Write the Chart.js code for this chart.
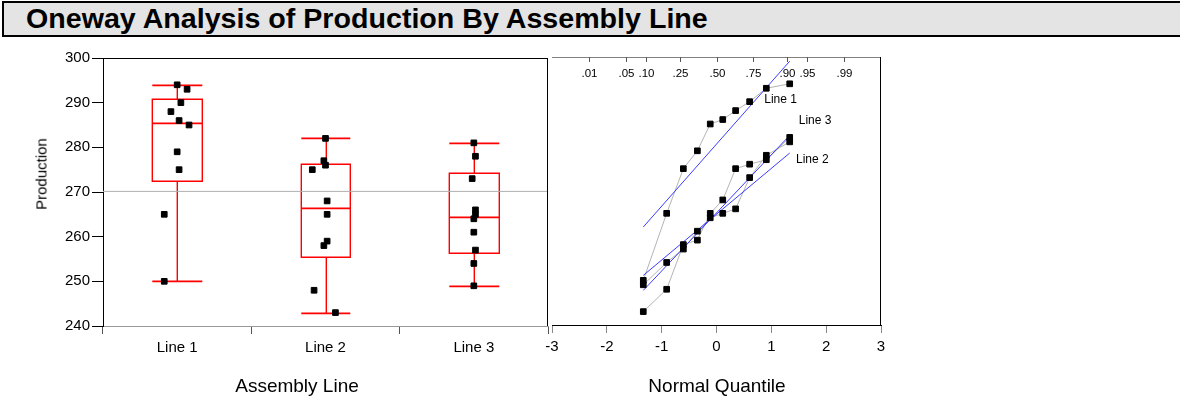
<!DOCTYPE html>
<html>
<head>
<meta charset="utf-8">
<script src="https://cdn.jsdelivr.net/npm/chart.js@4.4.0/dist/chart.umd.min.js"></script>
<style>
  body{margin:0;background:#fff;width:1180px;height:405px;overflow:hidden;position:relative;font-family:"Liberation Sans",Arial,sans-serif}
  #titre{position:absolute;left:2px;top:1px;width:1200px;height:32px;border:2px solid #000;background:#e4e4e4;
         font-weight:bold;font-size:27px;line-height:32px;padding-left:22px;white-space:nowrap}
  #titre span{display:inline-block;transform:scaleX(1.06);transform-origin:left center}
  canvas{position:absolute;top:0}
  #gauche{left:0}
  #droite{left:480px}
  .axe{position:absolute;font-size:19px;white-space:nowrap;transform:translateX(-50%);color:#000}
  #prod{position:absolute;left:41px;top:174px;font-size:15px;white-space:nowrap;transform:translate(-50%,-50%) rotate(-90deg)}
</style>
</head>
<body>
<div id="titre"><span>Oneway Analysis of Production By Assembly Line</span></div>
<canvas id="gauche" width="553" height="405"></canvas>
<canvas id="droite" width="440" height="405"></canvas>
<div id="prod">Production</div>
<div class="axe" style="left:297px;top:375px">Assembly Line</div>
<div class="axe" style="left:717px;top:375px">Normal Quantile</div>
<script>
// les donnees
const lignes = ['Line 1', 'Line 2', 'Line 3'];
const line1 = [294, 293, 290, 288, 286, 285, 279, 275, 265, 250];
const line2 = [282, 277, 276, 275, 268, 265, 259, 258, 248, 243];
const line3 = [281, 278, 273, 266, 265, 264, 261, 257, 254, 249];
// decalage horizontal des points (jitter), en largeur de categorie
const jitter1 = [0, 0.067, 0.025, -0.042, 0.013, 0.08, 0, 0.013, -0.087, -0.087];
const jitter2 = [0, -0.011, 0, -0.089, 0.011, 0.011, 0.011, -0.011, -0.077, 0.067];
const jitter3 = [0, 0.011, -0.011, 0.011, 0.011, 0, 0, 0.011, 0, 0];
const yTicks = [240, 250, 260, 270, 280, 290, 300];
const quantTicks = [-3, -2, -1, 0, 1, 2, 3];
const probas = [0.01, 0.05, 0.10, 0.25, 0.50, 0.75, 0.90, 0.95, 0.99];
const probaLabels = ['.01', '.05', '.10', '.25', '.50', '.75', '.90', '.95', '.99'];

const groupes = [line1, line2, line3];
const jitters = [jitter1, jitter2, jitter3];
const police = '"Liberation Sans", Arial, sans-serif';
Chart.defaults.font.family = police;

// inverse de la loi normale (Acklam)
function invNorm(p) {
  const a = [-39.69683028665376, 220.9460984245205, -275.9285104469687, 138.3577518672690, -30.66479806614716, 2.506628277459239];
  const b = [-54.47609879822406, 161.5858368580409, -155.6989798598866, 66.80131188771972, -13.28068155288572];
  const c = [-0.007784894002430293, -0.3223964580411365, -2.400758277161838, -2.549732539343734, 4.374664141464968, 2.938163982698783];
  const d = [0.007784695709041462, 0.3224671290700398, 2.445134137142996, 3.754408661907416];
  const pl = 0.02425;
  let q, r;
  if (p < pl) {
    q = Math.sqrt(-2 * Math.log(p));
    return (((((c[0]*q+c[1])*q+c[2])*q+c[3])*q+c[4])*q+c[5]) / ((((d[0]*q+d[1])*q+d[2])*q+d[3])*q+1);
  }
  if (p > 1 - pl) {
    q = Math.sqrt(-2 * Math.log(1 - p));
    return -(((((c[0]*q+c[1])*q+c[2])*q+c[3])*q+c[4])*q+c[5]) / ((((d[0]*q+d[1])*q+d[2])*q+d[3])*q+1);
  }
  q = p - 0.5; r = q * q;
  return (((((a[0]*r+a[1])*r+a[2])*r+a[3])*r+a[4])*r+a[5])*q / (((((b[0]*r+b[1])*r+b[2])*r+b[3])*r+b[4])*r+1);
}

// quantile facon JMP : position p*(n+1)
function quantile(tri, p) {
  const n = tri.length, pos = p * (n + 1), i = Math.floor(pos), f = pos - i;
  if (i < 1) return tri[0];
  if (i >= n) return tri[n - 1];
  return tri[i - 1] + f * (tri[i] - tri[i - 1]);
}

function stats(vals) {
  const tri = [...vals].sort((u, v) => u - v);
  const q1 = quantile(tri, 0.25), med = quantile(tri, 0.5), q3 = quantile(tri, 0.75);
  const iqr = q3 - q1;
  const bas = tri.find(v => v >= q1 - 1.5 * iqr);
  const haut = [...tri].reverse().find(v => v <= q3 + 1.5 * iqr);
  const moy = tri.reduce((s, v) => s + v, 0) / tri.length;
  const sd = Math.sqrt(tri.reduce((s, v) => s + (v - moy) ** 2, 0) / (tri.length - 1));
  return {tri, q1, med, q3, bas, haut, moy, sd};
}

const tous = groupes.flat();
const moyG = tous.reduce((s, v) => s + v, 0) / tous.length;

// boites a moustaches dessinees avec les echelles du graphe
const boites = {
  id: 'boites',
  beforeDatasetsDraw(chart) {
    const {ctx, scales: {x, y}} = chart;
    ctx.save();
    groupes.forEach((vals, g) => {
      const st = stats(vals);
      // trait un peu plus large que 1px : rouge avec un liseré rose comme l'original
      const xl = Math.round(x.getPixelForValue(g + 1 - 1 / 6)) + 0.3;
      const xr = Math.round(x.getPixelForValue(g + 1 + 1 / 6)) + 0.3;
      const xc = Math.round(x.getPixelForValue(g + 1)) + 0.3;
      const py = v => Math.round(y.getPixelForValue(v)) + 0.3;
      ctx.strokeStyle = 'rgb(255,0,0)';
      ctx.lineWidth = 1.4;
      ctx.beginPath();
      ctx.rect(xl, py(st.q3), xr - xl, py(st.q1) - py(st.q3));
      ctx.moveTo(xc, py(st.q3)); ctx.lineTo(xc, py(st.haut));
      ctx.moveTo(xc, py(st.q1)); ctx.lineTo(xc, py(st.bas));
      ctx.stroke();
      ctx.lineWidth = 1.8;
      ctx.beginPath();
      ctx.moveTo(xl, py(st.med)); ctx.lineTo(xr, py(st.med));
      ctx.moveTo(xl, py(st.haut)); ctx.lineTo(xr, py(st.haut));
      ctx.moveTo(xl, py(st.bas)); ctx.lineTo(xr, py(st.bas));
      ctx.stroke();
    });
    ctx.restore();
  },
  afterDraw(chart) {
    const {ctx, chartArea: a} = chart;
    ctx.save();
    ctx.strokeStyle = '#000';
    ctx.lineWidth = 1;
    ctx.beginPath();
    ctx.moveTo(a.left, Math.round(a.top) + 0.5); ctx.lineTo(a.right, Math.round(a.top) + 0.5);
    ctx.moveTo(Math.round(a.right) - 0.5, a.top); ctx.lineTo(Math.round(a.right) - 0.5, a.bottom);
    ctx.stroke();
    ctx.restore();
  }
};

// attention : Chart.js dessine le premier dataset au-dessus des autres
new Chart('gauche', {
  type: 'scatter',
  data: {
    datasets: [
      ...groupes.map((vals, g) => ({
        data: vals.map((v, i) => ({x: g + 1 + jitters[g][i], y: v})),
        pointStyle: 'rect', pointRadius: 4, backgroundColor: '#000', borderColor: '#000', borderWidth: 1
      })),
      {data: [{x: 0.5, y: moyG}, {x: 3.5, y: moyG}], showLine: true, borderColor: '#b0b0b0', borderWidth: 1, pointRadius: 0}
    ]
  },
  options: {
    responsive: false, animation: false,
    layout: {padding: {top: 58, right: 1, left: 0, bottom: 0}},
    plugins: {legend: {display: false}, tooltip: {enabled: false}},
    scales: {
      x: {
        type: 'linear', min: 0.5, max: 3.5,
        afterBuildTicks: s => { s.ticks = [1, 2, 3].map(v => ({value: v})); },
        afterFit: s => { s.height = 79; },
        ticks: {callback: v => lignes[v - 1], color: '#000', font: {size: 15}, padding: 5, maxRotation: 0, autoSkip: false},
        grid: {offset: true, drawOnChartArea: false, tickLength: 8, tickColor: '#555'},
        border: {color: '#999'}
      },
      y: {
        min: 240, max: 300,
        afterBuildTicks: s => { s.ticks = yTicks.map(v => ({value: v})); },
        afterFit: s => { s.width = 103; },
        ticks: {color: '#000', font: {size: 15}, padding: 2},
        grid: {drawOnChartArea: false, tickLength: 11, tickColor: '#000'},
        border: {color: '#000'}
      }
    }
  },
  plugins: [boites]
});

// graphe des quantiles normaux
const etiquettes = [
  {texte: 'Line 1', z: 0.87, v: 290.4},
  {texte: 'Line 3', z: 1.5, v: 285.8},
  {texte: 'Line 2', z: 1.45, v: 277.0}
];

const cadreQuantile = {
  id: 'cadreQuantile',
  afterDraw(chart) {
    const {ctx, chartArea: a, scales: {x, y}} = chart;
    ctx.save();
    ctx.lineWidth = 1;
    ctx.strokeStyle = '#808080';
    ctx.beginPath();
    ctx.moveTo(a.left, Math.round(a.top) + 0.5); ctx.lineTo(a.right, Math.round(a.top) + 0.5);
    ctx.stroke();
    ctx.strokeStyle = '#000';
    ctx.beginPath();
    ctx.moveTo(Math.round(a.right) - 0.5, a.top); ctx.lineTo(Math.round(a.right) - 0.5, a.bottom);
    ctx.stroke();
    ctx.strokeStyle = '#555';
    ctx.fillStyle = '#000';
    ctx.font = '11.5px ' + police;
    ctx.textAlign = 'center';
    ctx.textBaseline = 'middle';
    probas.forEach((p, i) => {
      const px = Math.round(x.getPixelForValue(invNorm(p))) + 0.5;
      ctx.beginPath();
      ctx.moveTo(px, a.top); ctx.lineTo(px, a.top + 5);
      ctx.stroke();
      ctx.fillText(probaLabels[i], px, a.top + 17);
    });
    ctx.font = '12px ' + police;
    ctx.textAlign = 'left';
    etiquettes.forEach(e => ctx.fillText(e.texte, x.getPixelForValue(e.z), y.getPixelForValue(e.v)));
    ctx.restore();
  }
};

const series = groupes.map(vals => {
  const st = stats(vals);
  const n = st.tri.length;
  const z = st.tri.map((v, i) => invNorm((i + 1) / (n + 1)));
  return {st, pts: st.tri.map((v, i) => ({x: z[i], y: v})), z0: z[0], z1: z[n - 1]};
});

new Chart('droite', {
  type: 'scatter',
  data: {
    datasets: [
      ...series.map(s => ({data: s.pts, pointStyle: 'rect', pointRadius: 4, backgroundColor: '#000', borderColor: '#000', borderWidth: 1})),
      ...series.map(s => ({
        data: [{x: s.z0, y: s.st.moy + s.st.sd * s.z0}, {x: s.z1, y: s.st.moy + s.st.sd * s.z1}],
        showLine: true, borderColor: '#3c3cff', borderWidth: 1, pointRadius: 0
      })),
      ...series.map(s => ({data: s.pts, showLine: true, borderColor: '#b4b4b4', borderWidth: 1, pointRadius: 0}))
    ]
  },
  options: {
    responsive: false, animation: false,
    layout: {padding: {top: 57, right: 39, left: 72, bottom: 0}},
    plugins: {legend: {display: false}, tooltip: {enabled: false}},
    scales: {
      x: {
        type: 'linear', min: -3, max: 3,
        afterBuildTicks: s => { s.ticks = quantTicks.map(v => ({value: v})); },
        afterFit: s => { s.height = 80; },
        ticks: {color: '#000', font: {size: 15}, padding: 5, maxRotation: 0, autoSkip: false},
        grid: {drawOnChartArea: false, tickLength: 8, tickColor: '#888'},
        border: {color: '#000'}
      },
      y: {display: false, min: 240, max: 300}
    }
  },
  plugins: [cadreQuantile]
});
</script>
</body>
</html>
